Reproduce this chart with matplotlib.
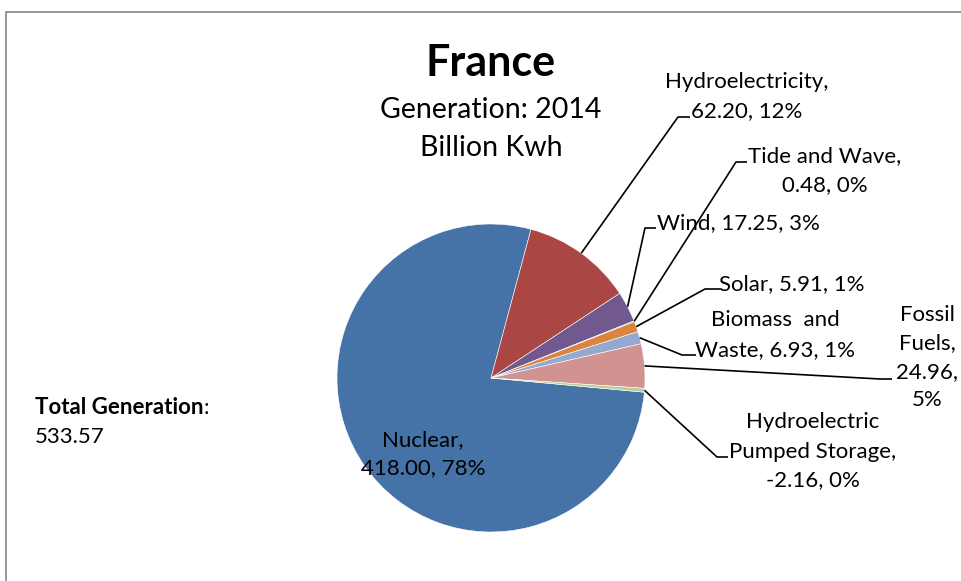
import numpy as np
import matplotlib.pyplot as plt
from matplotlib.patches import Rectangle

# Electricity generation, France 2014 (billion kWh)
sources = ["Nuclear", "Hydroelectricity", "Wind", "Tide and Wave", "Solar",
           "Biomass and Waste", "Fossil Fuels", "Hydroelectric Pumped Storage"]
values = [418.00, 62.20, 17.25, 0.48, 5.91, 6.93, 24.96, -2.16]
colors = ["#4572A7", "#AA4643", "#71588F", "#4198AF", "#DB843D",
          "#93A9CF", "#D19392", "#B9CD96"]

# label text lines (as laid out in the original chart)
label_lines = [
    ["Nuclear,", "418.00, 78%"],
    ["Hydroelectricity,", "62.20, 12%"],
    ["Wind, 17.25, 3%"],
    ["Tide and Wave,", "0.48, 0%"],
    ["Solar, 5.91, 1%"],
    ["Biomass  and", "Waste, 6.93, 1%"],
    ["Fossil", "Fuels,", "24.96,", "5%"],
    ["Hydroelectric", "Pumped Storage,", "-2.16, 0%"],
]

W, H = 961, 581
FONT = "Lato"
LABEL_SIZE = 16


def Y(y):
    """image row -> data y"""
    return H - y


def DrawLines(ax, x, ys, lines, size):
    for yy, txt in zip(ys, lines):
        ax.text(x, Y(yy), txt, ha="center", va="center", fontsize=size,
                family=FONT, color="black")


def main():
    fig = plt.figure(figsize=(W / 100, H / 100), dpi=100)
    ax = fig.add_axes([0, 0, 1, 1])

    cx, cy, r = 491, 378, 154
    sizes = np.abs(values)
    wedges, _ = ax.pie(sizes, colors=colors, startangle=-5.3, counterclock=False,
                       center=(cx, Y(cy)), radius=r,
                       wedgeprops=dict(edgecolor="white", linewidth=0.4))
    ax.set_xlim(0, W)
    ax.set_ylim(0, H)
    ax.set_aspect("equal")
    ax.axis("off")

    # chart border
    ax.add_patch(Rectangle((6, Y(700)), 1000, 688, fill=False, edgecolor="#868686",
                           linewidth=1.2, clip_on=False))

    # titles
    ax.text(cx, Y(63), "France", ha="center", va="center", fontsize=31,
            weight="bold", family=FONT)
    ax.text(cx, Y(110), "Generation: 2014", ha="center", va="center",
            fontsize=20.5, family=FONT)
    ax.text(cx, Y(148), "Billion Kwh", ha="center", va="center",
            fontsize=20.5, family=FONT)

    # label placement: (center x, line ys, elbow, end) in image pixels
    layout = [
        (423, [440, 468], None, None),
        (747, [82, 111], (678, 117), (690, 117)),
        (738, [223], (645, 228), (656, 228)),
        (825, [156, 185], (736, 162), (747, 162)),
        (792, [284], (705, 289), (720, 289)),
        (775, [320, 350], (682, 355), (696, 355)),
        (927, [315, 343, 372, 400], (880, 379), (892, 379)),
        (813, [422, 452, 480], (717, 457), (728, 457)),
    ]
    for w, lines, (lx, ys, elbow, end) in zip(wedges, label_lines, layout):
        DrawLines(ax, lx, ys, lines, LABEL_SIZE)
        if elbow is None:
            continue
        mid = np.deg2rad((w.theta1 + w.theta2) / 2)
        ax0 = cx + r * np.cos(mid)
        ay0 = Y(cy) + r * np.sin(mid)
        ax.plot([ax0, elbow[0], end[0]], [ay0, Y(elbow[1]), Y(end[1])],
                color="black", linewidth=1.2, solid_capstyle="butt")

    # total generation note
    t = ax.text(35, Y(408), "Total Generation", ha="left", va="center",
                fontsize=LABEL_SIZE, weight="bold", family=FONT)
    ax.annotate(":", xy=(1, 0.5), xycoords=t, ha="left", va="center",
                fontsize=LABEL_SIZE, family=FONT)
    ax.text(35, Y(437), f"{sum(values):.2f}", ha="left", va="center",
            fontsize=LABEL_SIZE, family=FONT)

    fig.savefig("out.png", dpi=100)


if __name__ == "__main__":
    main()
